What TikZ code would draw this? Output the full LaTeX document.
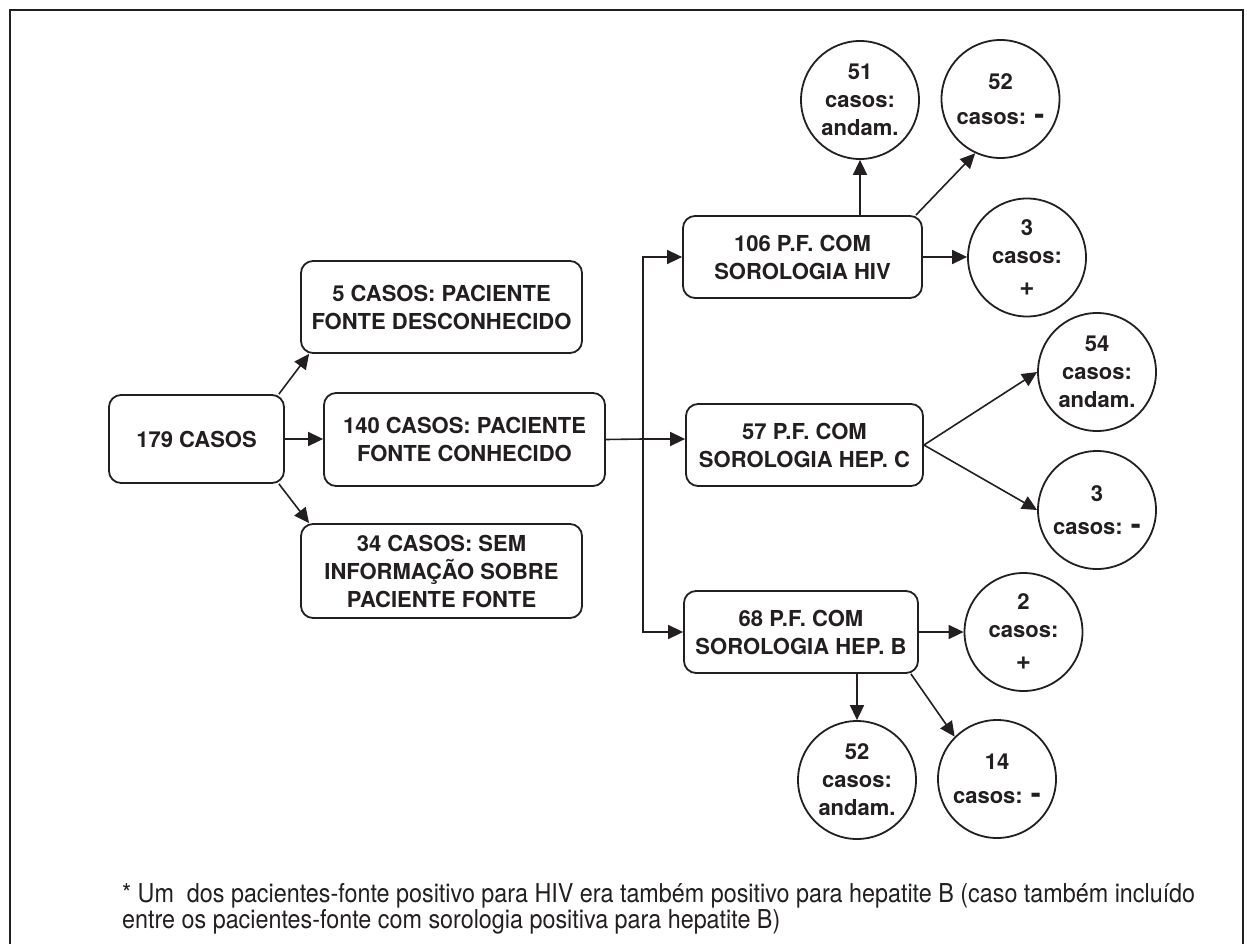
\documentclass[tikz,border=0pt]{standalone}
\usepackage{fontspec}
\usepackage{graphicx}
\setmainfont{TeX Gyre Heros}
\usetikzlibrary{arrows.meta}
\definecolor{ink}{RGB}{35,31,32}
\newlength\FootW
\newcommand\footlineA{* Um\ \ dos pacientes-fonte positivo para HIV era também positivo para hepatite B (caso também incluído}
\newcommand\footlineB{entre os pacientes-fonte com sorologia positiva para hepatite B)}
\newcommand\bigdash{{\fontsize{30}{30}\selectfont -}}
\newcommand\bigplus{{\fontsize{26}{26}\selectfont +}}
\begin{document}
\settowidth\FootW{\fontsize{26}{26}\selectfont\footlineA}%
\pgfmathsetmacro\fxs{1073/\FootW}%
\begin{tikzpicture}[x=1pt,y=-1pt,
  every node/.style={text=ink},
  box/.style={draw=ink, line width=1.8pt, rounded corners=12pt, align=center,
    font=\bfseries\fontsize{22}{28}\selectfont, inner sep=0pt},
  circ/.style={draw=ink, circle, line width=1.8pt, minimum size=118pt, inner sep=0pt,
    align=center, font=\bfseries\fontsize{22}{28}\selectfont},
  arr/.style={draw=ink, line width=1.6pt, -{Triangle[length=15pt,width=14pt]}},
  ln/.style={draw=ink, line width=1.6pt}]
\useasboundingbox (0,0) rectangle (1247,944);
\clip (0,0) rectangle (1247,944);
\fill[white] (0,0) rectangle (1247,944);
\draw[ink, line width=2.2pt] (10,960) -- (10,10) -- (1243,10) -- (1243,960);

% left part
\node[box, minimum width=175pt, minimum height=88pt] (n179) at (196.5,439) {179 CASOS};
\node[box, minimum width=281pt, minimum height=92pt] (n5) at (441.5,307) {5 CASOS: PACIENTE\\FONTE DESCONHECIDO};
\node[box, minimum width=281pt, minimum height=93pt] (n140) at (464.5,439.5) {140 CASOS: PACIENTE\\FONTE CONHECIDO};
\node[box, minimum width=281pt, minimum height=94pt] (n34) at (441.5,571) {34 CASOS: SEM\\INFORMAÇÃO SOBRE\\PACIENTE FONTE};

% middle boxes
\node[box, minimum width=239pt, minimum height=82pt] (n106) at (802.5,257) {106 P.F. COM\\SOROLOGIA HIV};
\node[box, minimum width=237pt, minimum height=82pt] (n57) at (804.5,445) {57 P.F. COM\\SOROLOGIA HEP. C};
\node[box, minimum width=234pt, minimum height=82pt] (n68) at (801,632) {68 P.F. COM\\SOROLOGIA HEP. B};

% circles
\node[circ] (c51) at (860,100) {51\\casos:\\andam.};
\node[circ] (c52) at (1000.5,99) {52\\[7pt]casos: \bigdash};
\node[circ] (c3p) at (1027,257.5) {3\\casos:\\[4pt]\bigplus};
\node[circ] (c54) at (1097,372) {54\\casos:\\andam.};
\node[circ] (c3m) at (1097,510) {3\\[5pt]casos: \bigdash};
\node[circ] (c2p) at (1023.5,632) {2\\casos:\\[4pt]\bigplus};
\node[circ] (c52b) at (857,780) {52\\casos:\\andam.};
\node[circ] (c14) at (997,779) {14\\[6pt]casos: \bigdash};

% connectors from 179
\draw[arr] ([xshift=-6pt]n179.north east) -- ([xshift=9pt]n5.south west);
\draw[arr] (n179.east) -- (n179.east -| n140.west);
\draw[arr] ([xshift=-6pt]n179.south east) -- ([xshift=9pt]n34.north west);

% trunk
\coordinate (j) at (643,439);
\draw[ln] (n140.east) -- (j);
\draw[arr] (j) -- (j -| n57.west);
\draw[arr] (j) |- (n106.west);
\draw[arr] (j) |- (n68.west);

% HIV
\draw[arr] (n106.north -| c51) -- (c51.south);
\draw[arr] ([xshift=-7pt]n106.north east) -- (c52.245);
\draw[arr] (n106.east) -- (n106.east -| c3p.west);

% HEP C
\draw[arr] (n57.east) -- (c54.west);
\draw[arr] (n57.east) -- (c3m.west);

% HEP B
\draw[arr] (n68.east) -- (n68.east -| c2p.west);
\draw[arr] (n68.south -| c52b) -- (c52b.north);
\draw[arr] ([xshift=-8pt]n68.south east) -- (c14.135);

% footnote
\node[anchor=base west, inner sep=0pt] (f1) at (122,902) {\scalebox{\fxs}[1]{\fontsize{26}{26}\selectfont\footlineA}};
\node[anchor=base west, inner sep=0pt] (f2) at (122,928) {\scalebox{\fxs}[1]{\fontsize{26}{26}\selectfont\footlineB}};
\end{tikzpicture}
\end{document}
